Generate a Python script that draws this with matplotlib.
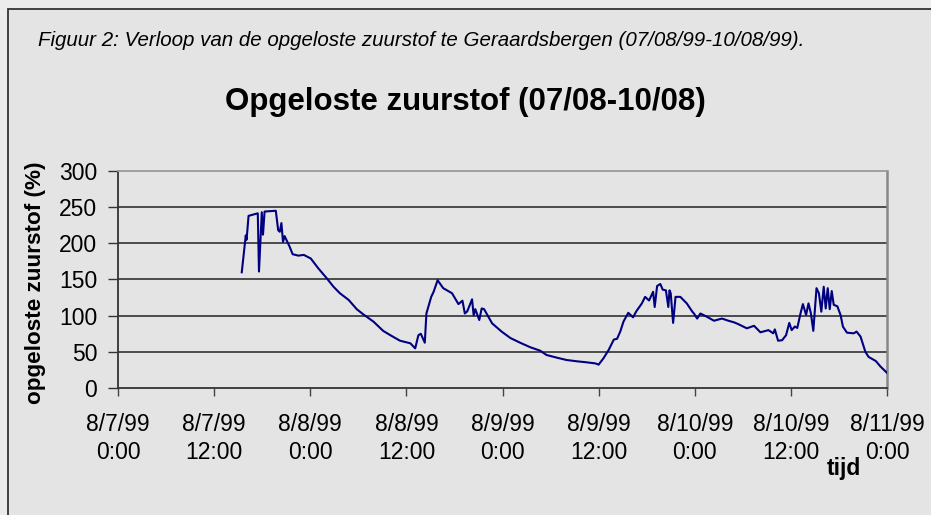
import matplotlib
matplotlib.use("Agg")
import matplotlib.pyplot as plt
from matplotlib.patches import Rectangle

plt.rcParams['font.family'] = ['Liberation Sans', 'DejaVu Sans']

# hours since 8/7/99 0:00
hours = [15.45, 15.95, 16.05, 16.3, 17.45, 17.6, 17.95, 18.1, 18.3, 19.7, 20.0, 20.2, 20.4, 20.6, 20.8,
         21.4, 21.8, 22.5, 23.2, 24.07, 25.0, 26.07, 26.9, 27.7, 28.8, 29.8, 30.6, 31.9, 33.1, 34.0,
         35.2, 36.5, 37.1, 37.5, 37.8, 38.3, 38.5, 39.1, 39.4, 39.9, 40.6, 41.7, 42.5, 43.0, 43.3,
         43.6, 44.2, 44.4, 44.6, 45.1, 45.4, 45.7, 46.7, 47.9, 49.0, 50.2, 51.5, 52.7, 53.5, 54.8,
         56.0, 57.3, 58.5, 59.6, 60.0, 60.6, 61.25, 61.9, 62.3, 62.7, 63.1, 63.7, 64.3, 64.7, 65.4,
         65.8, 66.3, 66.8, 67.0, 67.3, 67.7, 68.0, 68.4, 68.7, 68.85, 69.0, 69.3, 69.6, 70.2, 71.0,
         71.7, 71.9, 72.3, 72.7, 73.5, 74.4, 75.4, 76.2, 76.9, 77.4, 78.5, 79.4, 80.2, 81.2, 81.8,
         82.0, 82.4, 82.9, 83.4, 83.8, 84.1, 84.5, 84.8, 85.2, 85.5, 85.9, 86.2, 86.5, 86.8, 87.2,
         87.5, 87.8, 88.1, 88.35, 88.6, 88.85, 89.1, 89.35, 89.8, 90.2, 90.5, 91.0, 91.85, 92.2, 92.7,
         93.3, 93.7, 94.6, 95.2, 96.0]
oxygen = [160, 211, 205, 238, 241.5, 161, 243, 212, 244, 245, 218, 216, 228, 202, 210,
          196, 185, 183, 184, 179, 165.5, 151.6, 140, 131, 121.7, 109, 102, 91.7, 79, 73,
          65.4, 61.8, 54.8, 73, 75, 62.6, 103, 126, 133, 149, 138, 131, 116, 120.7, 103,
          106, 122.6, 100.5, 109, 94, 110, 109, 89.4, 77.9, 69, 62.6, 56.2, 51.6, 45.6, 41.9,
          38.7, 36.9, 35.5, 34, 32.3, 41, 52.5, 67, 68, 78, 91.7, 104, 97.7, 106, 117,
          126, 121, 133, 112, 141, 143.8, 136, 135, 112, 135, 131, 90, 126, 126, 117,
          105.5, 103, 96, 103, 98.6, 93, 96, 93, 90.8, 88.5, 82.5, 86, 77, 80, 75.6,
          81, 65.4, 66, 73, 90, 80, 85, 83, 103, 116, 101, 117, 103, 79, 138,
          131, 105.5, 140, 110, 138, 109, 134, 115, 113, 101, 84.8, 76.5, 75.6, 78, 71,
          50, 43, 37.3, 29.5, 21]

tick_hours = [0, 12, 24, 36, 48, 60, 72, 84, 96]
tick_labels = ["8/7/99\n0:00", "8/7/99\n12:00", "8/8/99\n0:00", "8/8/99\n12:00", "8/9/99\n0:00",
               "8/9/99\n12:00", "8/10/99\n0:00", "8/10/99\n12:00", "8/11/99\n0:00"]
y_ticks = [0, 50, 100, 150, 200, 250, 300]

W, H = 931, 515
fig = plt.figure(figsize=(W / 100, H / 100), dpi=100, facecolor='#ebebeb')

# outer frame
frame = Rectangle((7.5 / W, -0.1), 1.2, (H - 8.5) / H + 0.1, transform=fig.transFigure,
                  facecolor='#e4e4e4', edgecolor='#333333', linewidth=1.3, zorder=-10)
fig.add_artist(frame)

ax = fig.add_axes([118 / W, (H - 388) / H, (887 - 118) / W, (388 - 171) / H])
ax.set_zorder(5)
ax.set_facecolor('#e4e4e4')
ax.plot(hours, oxygen, color='#000080', linewidth=1.5, zorder=3)

ax.set_xlim(0, 96)
ax.set_ylim(0, 300)
ax.set_xticks(tick_hours)
ax.set_xticklabels(tick_labels, fontsize=16.5, linespacing=1.3)
ax.set_yticks(y_ticks)
ax.set_yticklabels([str(v) for v in y_ticks], fontsize=16.5)
ax.tick_params(axis='x', direction='out', length=6, width=1.0, color='#444444', pad=12)
ax.tick_params(axis='y', direction='out', length=7, width=1.0, color='#333333', pad=8)

for v in y_ticks[1:-1]:
    ax.axhline(v, color='#222222', linewidth=1.1, zorder=1)

ax.spines['left'].set_color('#333333')
ax.spines['bottom'].set_color('#333333')
ax.spines['left'].set_linewidth(1.3)
ax.spines['bottom'].set_linewidth(1.3)
ax.spines['top'].set_color('#9a9a9a')
ax.spines['right'].set_color('#888888')
ax.spines['top'].set_linewidth(1.3)
ax.spines['right'].set_linewidth(1.8)

fig.text(38 / W, 1 - 46 / H, "Figuur 2: Verloop van de opgeloste zuurstof te Geraardsbergen (07/08/99-10/08/99).",
         fontsize=14.8, style='italic', ha='left', va='baseline')
fig.text(465 / W, 1 - 110 / H, "Opgeloste zuurstof (07/08-10/08)", fontsize=22.5, fontweight='bold',
         ha='center', va='baseline')
fig.text(36 / W, 1 - 283 / H, "opgeloste zuurstof (%)", fontsize=16.2, fontweight='bold', rotation=90,
         ha='center', va='center')
fig.text(844 / W, 1 - 469 / H, "tijd", fontsize=16.5, fontweight='bold', ha='center', va='center')

fig.savefig("out.png", dpi=100, facecolor=fig.get_facecolor())
